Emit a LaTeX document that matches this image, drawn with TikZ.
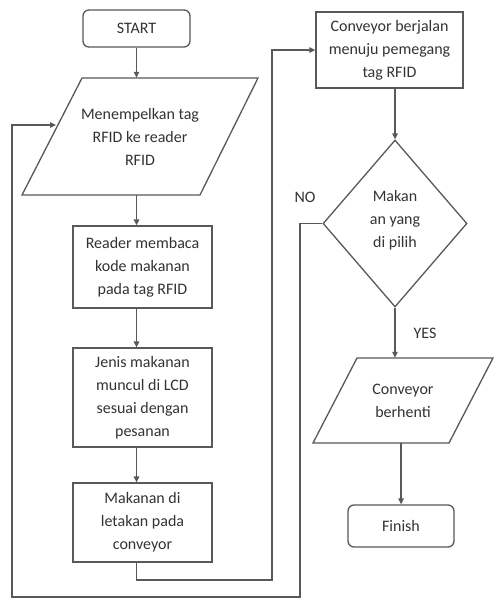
\documentclass[tikz,border=0pt]{standalone}
\usepackage{fontspec}
\setmainfont{Carlito}
\usetikzlibrary{shapes.geometric,arrows.meta,calc}
\begin{document}
\begin{tikzpicture}[x=1pt,y=-1pt,
  line/.style={draw=black!65, line width=1.3pt},
  arr/.style={line, -{Triangle[length=6pt,width=5.5pt]}},
  txt/.style={align=center, inner sep=0pt, font=\fontsize{16}{23}\selectfont, text=black!80},
  box/.style={txt, line, rectangle},
  term/.style={box, rounded corners=6pt},
  lbl/.style={inner sep=0pt, font=\fontsize{16}{19}\selectfont, text=black!80}
]
\useasboundingbox (0,0) rectangle (494,603);
\fill[white] (0,0) rectangle (494,603);

% left column
\node[term, minimum width=107pt, minimum height=37pt] (start) at (136.5,28.5) {START};
\draw[line] (82,78) -- (258,78) -- (200,195) -- (22,195) -- cycle;
\node[txt, minimum height=117pt, minimum width=100pt] (p1) at (140,136.5) {Menempelkan tag\\RFID ke reader\\RFID};
\coordinate (p1in) at (56,125);
\node[box, minimum width=139pt, minimum height=82pt] (reader) at (142.5,267) {Reader membaca\\kode makanan\\pada tag RFID};
\node[box, minimum width=139pt, minimum height=99pt] (jenis) at (142.5,397.5) {Jenis makanan\\muncul di LCD\\sesuai dengan\\pesanan};
\node[box, minimum width=139pt, minimum height=79pt] (makan) at (142.5,522.5) {Makanan di\\letakan pada\\conveyor};

% right column
\node[box, minimum width=147pt, minimum height=76pt] (conv) at (389.5,50) {Conveyor berjalan\\menuju pemegang\\tag RFID};
\node[txt, line, diamond, minimum width=144pt, minimum height=167pt] (dec) at (395,223.5) {};
\node[txt] (dectext) at (395,220) {Makan\\an yang\\di pilih};
\draw[line] (357,358) -- (493,358) -- (449,443) -- (313,443) -- cycle;
\node[txt, minimum height=85pt, minimum width=90pt] (p2) at (403,400.5) {Conveyor\\berhenti};
\node[term, minimum width=106pt, minimum height=42pt] (finish) at (401,526) {Finish};

\node[lbl] (no) at (305,197) {NO};
\node[lbl] (yes) at (425,333) {YES};

% connectors
\draw[arr] (start.south) -- (start.south |- p1.north);
\draw[arr] (p1.south -| start.south) -- (reader.north -| start.south);
\draw[arr] (reader.south -| start.south) -- (jenis.north -| start.south);
\draw[arr] (jenis.south -| start.south) -- (makan.north -| start.south);
\draw[arr] (makan.south -| start.south) |- (272,580) |- (conv.west);
\draw[arr] (conv.south -| dec.north) -- (dec.north);
\draw[arr] (dec.west) -| (300,597) -| (12,125) -- (p1in);
\draw[arr] (dec.south) -- (dec.south |- p2.north);
\draw[arr] (p2.south -| finish.north) -- (finish.north);
\end{tikzpicture}
\end{document}
